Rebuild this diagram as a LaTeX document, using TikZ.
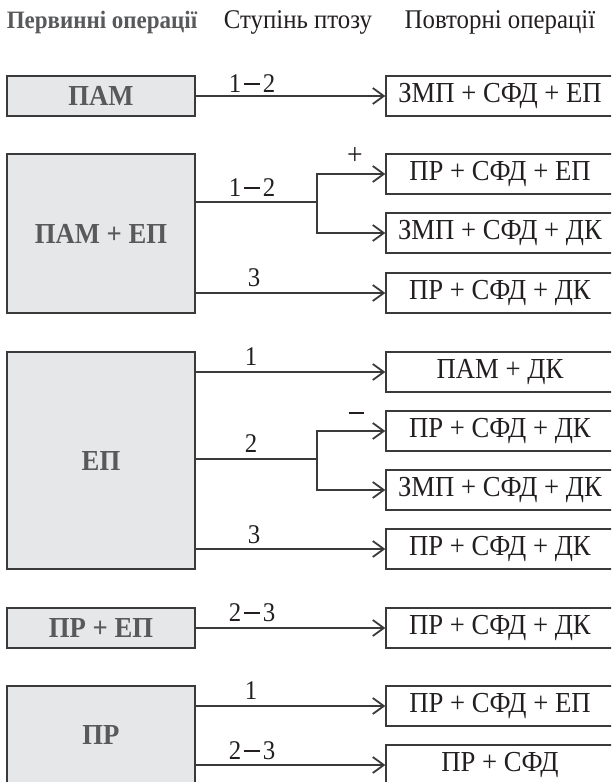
\documentclass[tikz,border=0pt]{standalone}
\usepackage{fontspec}
\setmainfont[FakeStretch=0.92]{Liberation Serif}
\usetikzlibrary{arrows.meta}

\definecolor{boxgray}{HTML}{E6E7E8}
\definecolor{textgray}{HTML}{58595B}
\definecolor{linegray}{HTML}{3A3A3A}
\definecolor{inkblack}{HTML}{231F20}

\newcommand{\degdash}{\kern0.1em\rule[0.27em]{0.6em}{1.9pt}\kern0.1em}

\begin{document}
\begin{tikzpicture}[x=1pt, y=-1pt,
    primbox/.style={draw=linegray, fill=boxgray, line width=1.4pt, minimum width=188pt,
        inner sep=0pt, font=\fontsize{29}{34}\selectfont\bfseries, text=textgray},
    redobox/.style={draw=linegray, line width=1.4pt, minimum width=228pt, minimum height=40pt,
        inner sep=0pt, font=\fontsize{29}{34}\selectfont, text=inkblack},
    link/.style={draw=linegray, line width=1.5pt},
    arr/.style={link, -{Straight Barb[length=11pt, width=16pt, line width=1.8pt]}},
    degree/.style={anchor=base, font=\fontsize{27}{32}\selectfont, text=inkblack},
    heading/.style={anchor=base, font=\fontsize{27}{32}\selectfont},
]
    % 0. Frame of the page
    \useasboundingbox (0,0) rectangle (611,782);
    \clip (0,0) rectangle (611,782);

    % 1. Column headings
    \node[heading, text=textgray, font=\fontsize{25}{30}\selectfont\bfseries] (h1) at (102,28) {Первинні операції};
    \node[heading, text=inkblack] (h2) at (298,28) {Ступінь птозу};
    \node[heading, text=inkblack] (h3) at (500,28) {Повторні операції};

    % 2. Primary operations (left column)
    \node[primbox, minimum height=40pt]  (pam)   at (101,96)    {ПАМ};
    \node[primbox, minimum height=159pt] (pamep) at (101,233.5) {ПАМ + ЕП};
    \node[primbox, minimum height=217pt] (ep)    at (101,460.5) {ЕП};
    \node[primbox, minimum height=40pt]  (prep)  at (101,628)   {ПР + ЕП};
    \node[primbox, minimum height=98pt]  (pr)    at (101,735)   {ПР};

    % 3. Repeated operations (right column)
    \node[redobox] (r1)  at (500,96)  {ЗМП + СФД + ЕП};
    \node[redobox] (r2)  at (500,174) {ПР + СФД + ЕП};
    \node[redobox] (r3)  at (500,233) {ЗМП + СФД + ДК};
    \node[redobox] (r4)  at (500,293) {ПР + СФД + ДК};
    \node[redobox] (r5)  at (500,372) {ПАМ + ДК};
    \node[redobox] (r6)  at (500,431) {ПР + СФД + ДК};
    \node[redobox] (r7)  at (500,490) {ЗМП + СФД + ДК};
    \node[redobox] (r8)  at (500,549) {ПР + СФД + ДК};
    \node[redobox] (r9)  at (500,628) {ПР + СФД + ДК};
    \node[redobox] (r10) at (500,706) {ПР + СФД + ЕП};
    \node[redobox] (r11) at (500,765) {ПР + СФД};

    % 4. Forks
    \coordinate (fork1) at (317,202);
    \coordinate (fork2) at (317,459);

    % 5. Connectors
    \draw[arr] (pam.east |- r1.west) -- (r1.west);
    \draw[link] (pamep.east |- fork1) -- (fork1);
    \draw[arr] (fork1) |- (r2.west);
    \draw[arr] (fork1) |- (r3.west);
    \draw[arr] (pamep.east |- r4.west) -- (r4.west);
    \draw[arr] (ep.east |- r5.west) -- (r5.west);
    \draw[link] (ep.east |- fork2) -- (fork2);
    \draw[arr] (fork2) |- (r6.west);
    \draw[arr] (fork2) |- (r7.west);
    \draw[arr] (ep.east |- r8.west) -- (r8.west);
    \draw[arr] (prep.east |- r9.west) -- (r9.west);
    \draw[arr] (pr.east |- r10.west) -- (r10.west);
    \draw[arr] (pr.east |- r11.west) -- (r11.west);

    % 6. Ptosis degree labels
    \node[degree] (d1)  at (252,92)  {1\degdash2};
    \node[degree] (d2)  at (252,196) {1\degdash2};
    \node[degree] (d3)  at (254,286) {3};
    \node[degree] (d4)  at (251,365) {1};
    \node[degree] (d5)  at (251,452) {2};
    \node[degree] (d6)  at (254,543) {3};
    \node[degree] (d7)  at (252,621) {2\degdash3};
    \node[degree] (d8)  at (251,699) {1};
    \node[degree] (d9)  at (252,759) {2\degdash3};
    \node[degree, font=\fontsize{30}{34}\selectfont] (plus)  at (355,164) {+};
    \node[degree] (minus) at (356,414) {\rule{15pt}{2pt}};

\end{tikzpicture}
\end{document}
